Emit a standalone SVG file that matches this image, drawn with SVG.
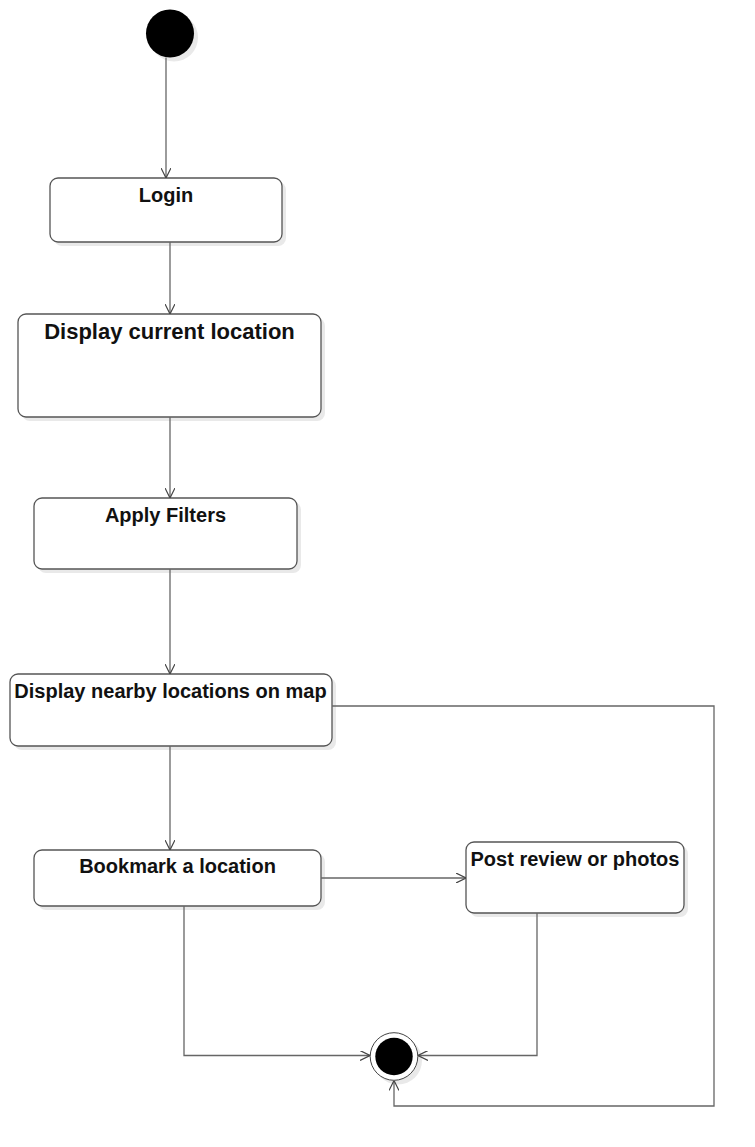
<svg xmlns="http://www.w3.org/2000/svg" width="755" height="1147" viewBox="0 0 755 1147">
<defs>
<style>
.box{fill:#ffffff;stroke:#555555;stroke-width:1.3}
.shadow{fill:#e9e9e9;stroke:none}
.lbl{font-family:"Liberation Sans",Arial,sans-serif;font-weight:bold;font-size:20px;fill:#111111;text-anchor:middle}
.edge{fill:none;stroke:#666666;stroke-width:1.3}
</style>
<marker id="arr" viewBox="0 0 10 10" refX="10" refY="5" markerWidth="10" markerHeight="10" markerUnits="userSpaceOnUse" orient="auto">
<path d="M0,0 L10,5 L0,10" fill="none" stroke="#444444" stroke-width="1.2"/>
</marker>
</defs>
<rect width="755" height="1147" fill="#ffffff"/>

<g id="start">
<circle class="shadow" cx="174" cy="37.5" r="24"/>
<circle cx="170" cy="33.5" r="24" fill="#000000"/>
</g>

<g id="login">
<rect class="shadow" x="54" y="182" width="232" height="64" rx="8"/>
<rect class="box" x="50" y="178" width="232" height="64" rx="8"/>
<text class="lbl" x="166" y="202">Login</text>
</g>

<g id="display-current">
<rect class="shadow" x="22" y="318" width="303" height="103" rx="8"/>
<rect class="box" x="18" y="314" width="303" height="103" rx="8"/>
<text class="lbl" x="169.5" y="339" style="font-size:22px">Display current location</text>
</g>

<g id="apply-filters">
<rect class="shadow" x="38" y="502" width="263" height="71" rx="8"/>
<rect class="box" x="34" y="498" width="263" height="71" rx="8"/>
<text class="lbl" x="165.5" y="522">Apply Filters</text>
</g>

<g id="display-nearby">
<rect class="shadow" x="14" y="678" width="322" height="72" rx="8"/>
<rect class="box" x="10" y="674" width="322" height="72" rx="8"/>
<text class="lbl" x="170.5" y="698">Display nearby locations on map</text>
</g>

<g id="bookmark">
<rect class="shadow" x="38" y="854" width="287" height="56" rx="8"/>
<rect class="box" x="34" y="850" width="287" height="56" rx="8"/>
<text class="lbl" x="177.5" y="873">Bookmark a location</text>
</g>

<g id="post-review">
<rect class="shadow" x="470" y="846" width="218" height="71" rx="8"/>
<rect class="box" x="466" y="842" width="218" height="71" rx="8"/>
<text class="lbl" x="575" y="866">Post review or photos</text>
</g>

<g id="end">
<circle class="shadow" cx="398" cy="1060.5" r="24"/>
<circle cx="394" cy="1056.5" r="23.8" fill="#ffffff" stroke="#444444" stroke-width="1"/>
<circle cx="394" cy="1056.5" r="18.7" fill="#000000"/>
</g>

<g id="connectors">
<path class="edge" d="M166,57.5 L166,178" marker-end="url(#arr)"/>
<path class="edge" d="M170,242 L170,314" marker-end="url(#arr)"/>
<path class="edge" d="M170,417 L170,498" marker-end="url(#arr)"/>
<path class="edge" d="M170,569 L170,674" marker-end="url(#arr)"/>
<path class="edge" d="M170,746 L170,850" marker-end="url(#arr)"/>
<path class="edge" d="M321,878 L466,878" marker-end="url(#arr)"/>
<path class="edge" d="M184,906 L184,1055.5 L370,1055.5" marker-end="url(#arr)"/>
<path class="edge" d="M537,913 L537,1055.5 L418,1055.5" marker-end="url(#arr)"/>
<path class="edge" d="M332,706 L714,706 L714,1106 L394,1106 L394,1080.5" marker-end="url(#arr)"/>
</g>
</svg>
